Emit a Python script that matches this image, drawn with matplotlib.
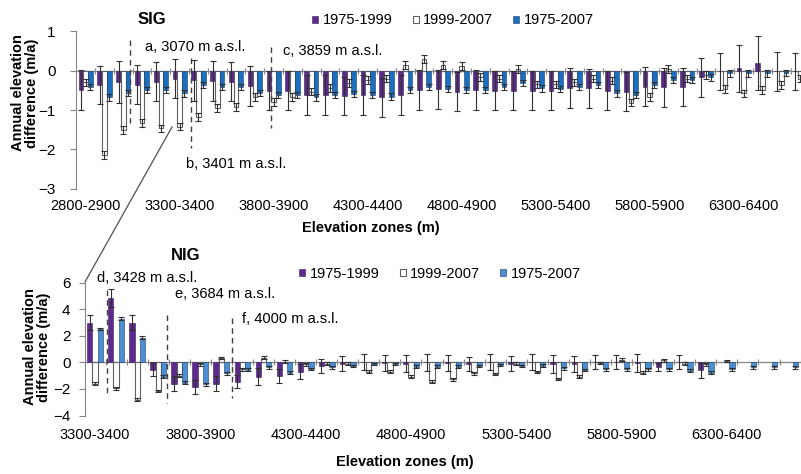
import numpy as np
import matplotlib
matplotlib.use("Agg")
import matplotlib.pyplot as plt
from matplotlib.lines import Line2D

plt.rcParams['font.family'] = ['Liberation Sans', 'DejaVu Sans']

nan = np.nan

# ---- SIG (upper panel) ----
sig_zones = ['%d-%d' % (e, e + 100) for e in range(2800, 6700, 100)]
sig_p = [-0.49, -0.37, -0.28, -0.36, -0.28, -0.20, -0.24, -0.26, -0.28, -0.39,
         -0.51, -0.51, -0.62, -0.62, -0.64, -0.62, -0.68, -0.62, -0.49, -0.47,
         -0.53, -0.49, -0.51, -0.51, -0.51, -0.51, -0.45, -0.45, -0.51, -0.53,
         -0.41, -0.42, -0.41, -0.17, -0.02, 0.06, 0.20, -0.02, -0.02]
sig_p_err = [0.50, 0.48, 0.53, 0.50, 0.50, 0.50, 0.52, 0.50, 0.50, 0.50,
             0.49, 0.49, 0.50, 0.50, 0.49, 0.50, 0.49, 0.50, 0.50, 0.50,
             0.49, 0.50, 0.49, 0.50, 0.49, 0.50, 0.51, 0.50, 0.49, 0.49,
             0.50, 0.50, 0.49, 0.49, 0.48, 0.60, 0.68, 0.50, 0.48]
sig_w = [-0.30, -2.15, -1.50, -1.34, -1.47, -1.42, -1.17, -0.96, -0.92, -0.66,
         -0.80, -0.66, -0.53, -0.45, -0.32, -0.24, -0.20, 0.15, 0.29, 0.14,
         0.12, -0.15, -0.20, 0.05, -0.35, -0.35, -0.30, -0.20, -0.25, -0.81,
         -0.66, 0.05, -0.20, -0.10, -0.47, -0.58, -0.49, -0.36, -0.20]
sig_w_err = [0.10] * 39
sig_b = [-0.42, -0.68, -0.56, -0.50, -0.50, -0.58, -0.37, -0.41, -0.41, -0.56,
         -0.62, -0.62, -0.68, -0.62, -0.60, -0.62, -0.66, -0.49, -0.42, -0.47,
         -0.49, -0.49, -0.42, -0.32, -0.45, -0.47, -0.42, -0.36, -0.58, -0.62,
         -0.36, -0.24, -0.24, -0.17, -0.07, -0.07, -0.07, -0.05, -0.05]
sig_b_err = [0.08] * 39

# ---- NIG (lower panel) ----
nig_zones = ['%d-%d' % (e, e + 100) for e in range(3300, 6700, 100)]
nig_p = [2.98, 4.81, 2.98, -0.55, -1.60, -1.85, -1.60, -1.45, -1.08, -1.03,
         -0.70, -0.28, -0.12, 0.02, -0.05, -0.10, 0.00, -0.05, -0.12, 0.02,
         -0.10, 0.05, -0.10, -0.10, 0.02, 0.02, -0.05, -0.33, 0.00, -0.60,
         nan, nan, nan, nan]
nig_p_err = [0.58, 0.68, 0.58, 0.48, 0.55, 0.53, 0.57, 0.50, 0.65, 0.50,
             0.58, 0.56, 0.56, 0.60, 0.60, 0.65, 0.62, 0.62, 0.50, 0.60,
             0.55, 0.60, 0.68, 0.60, 0.50, 0.52, 0.70, 0.30, 0.52, 0.55,
             nan, nan, nan, nan]
nig_w = [-1.60, -1.95, -2.80, -2.15, -1.00, -0.15, 0.33, -0.53, 0.35, 0.05,
         -0.15, -0.10, -0.10, -0.70, -0.70, -1.08, -1.45, -1.28, -0.83, -0.88,
         -0.10, -0.72, -1.25, -1.08, -0.05, 0.20, -0.78, 0.15, -0.10, -0.15,
         0.10, nan, nan, nan]
nig_w_err = [0.10] * 31 + [nan] * 3
nig_b = [2.50, 3.28, 1.85, -1.08, -1.52, -1.65, -0.83, -0.55, -0.38, -0.78,
         -0.50, -0.38, -0.28, -0.13, -0.13, -0.33, -0.33, -0.33, -0.28, -0.20,
         -0.28, -0.25, -0.45, -0.58, -0.53, -0.53, -0.53, -0.53, -0.63, -0.78,
         -0.53, -0.38, -0.38, -0.38]
nig_b_err = [0.10] * 34

periods = ['1975-1999', '1999-2007', '1975-2007']

W, H = 801, 474
fig = plt.figure(figsize=(W / 100, H / 100), dpi=100)

def fx(px):
    return px / W

def fy(py):
    return 1 - py / H

purple = '#5c2a8c'
grey = '#858585'
ekw = dict(ecolor='#303030', elinewidth=0.8, capsize=2, capthick=0.8)


def panel(rect, zones, p, pe, w, we, b, be, blue, ylim, yticks, xmax, tickpad, ypad):
    ax = fig.add_axes(rect)
    x = np.arange(len(zones))
    bw = 0.25
    ax.bar(x - bw, p, bw, yerr=pe, color=purple, edgecolor='#3b1d5c', linewidth=0.4,
           error_kw=ekw, label=periods[0], zorder=3)
    ax.bar(x, w, bw, yerr=we, color='white', edgecolor='#606060', linewidth=0.8,
           error_kw=ekw, label=periods[1], zorder=3)
    ax.bar(x + bw, b, bw, yerr=be, color=blue, edgecolor='#1d3f66', linewidth=0.4,
           error_kw=ekw, label=periods[2], zorder=3)
    ax.axhline(0, color=grey, lw=0.9, zorder=2)
    ax.plot(x + 0.5, np.zeros(len(x)), '|', color=grey, ms=5, mew=0.8, zorder=2)
    ax.set_xlim(-0.5, xmax)
    ax.set_ylim(*ylim)
    ax.set_yticks(yticks)
    ax.set_xticks(x[::5])
    ax.set_xticklabels(zones[::5], fontsize=10.5)
    ax.tick_params(axis='x', length=0, pad=tickpad)
    ax.tick_params(axis='y', direction='out', length=4, color=grey, labelsize=11, pad=ypad)
    for s in ['top', 'right', 'bottom']:
        ax.spines[s].set_visible(False)
    ax.spines['left'].set_color(grey)
    ax.patch.set_alpha(0)
    return ax


ax1 = panel([fx(76.3), fy(188.6), 1 - fx(76.3), (188.6 - 31.4) / H],
            sig_zones, sig_p, sig_p_err, sig_w, sig_w_err, sig_b, sig_b_err,
            '#1c6fc0', (-3, 1), [-3, -2, -1, 0, 1], 38.05, 7.5, 11)
ax2 = panel([fx(84.5), fy(415.5), 1 - fx(84.5), (415.5 - 282.5) / H],
            nig_zones, nig_p, nig_p_err, nig_w, nig_w_err, nig_b, nig_b_err,
            '#4b8fd2', (-4, 6), [-4, -2, 0, 2, 4, 6], 33.52, 9, 6)

for ax, cx, cy in [(ax1, 453, 20.5), (ax2, 440, 274)]:
    ax.legend(loc='center', bbox_to_anchor=(fx(cx), fy(cy)), bbox_transform=fig.transFigure,
              ncol=3, frameon=False, fontsize=10.5, handlelength=0.4, handleheight=0.4,
              handletextpad=0.3, columnspacing=1.4, borderpad=0)

# titles and axis labels
fig.text(fx(152), fy(19), 'SIG', fontsize=12, fontweight='bold', ha='center', va='center')
fig.text(fx(186), fy(255), 'NIG', fontsize=12, fontweight='bold', ha='center', va='center')
ylab = 'Annual elevation\ndifference (m/a)'
fig.text(fx(25), fy(93), ylab, fontsize=10.5, fontweight='bold', rotation=90,
         ha='center', va='center', linespacing=1.0)
fig.text(fx(37), fy(347), ylab, fontsize=10.5, fontweight='bold', rotation=90,
         ha='center', va='center', linespacing=1.0)
fig.text(fx(371), fy(228), 'Elevation zones (m)', fontsize=10.5, fontweight='bold',
         ha='center', va='center')
fig.text(fx(405), fy(462), 'Elevation zones (m)', fontsize=10.5, fontweight='bold',
         ha='center', va='center')

# terminus annotations: (axis, x position, y from, y to, label, text x px, text y px)
notes = [
    (ax1, 2.36, 0.78, -1.33, 'a, 3070 m a.s.l.', 145, 47),
    (ax1, 5.59, 0.32, -1.97, 'b, 3401 m a.s.l.', 186, 164),
    (ax1, 9.86, 0.60, -1.46, 'c, 3859 m a.s.l.', 283, 51),
    (ax2, 0.57, 5.44, -2.46, 'd, 3428 m a.s.l.', 97, 278),
    (ax2, 3.40, 3.56, -3.06, 'e, 3684 m a.s.l.', 175, 294),
    (ax2, 6.50, 3.33, -2.68, 'f, 4000 m a.s.l.', 242, 319),
]
for ax, xv, y0, y1, txt, tx, ty in notes:
    ax.plot([xv, xv], [y0, y1], color='#404040', lw=1.0, ls=(0, (4, 3)), zorder=4)
    fig.text(fx(tx), fy(ty), txt, fontsize=10.5, ha='left', va='center')

fig.add_artist(Line2D([fx(172), fx(85)], [fy(127), fy(282)], color='#505050', lw=0.9))

fig.savefig('out.png', dpi=100)
